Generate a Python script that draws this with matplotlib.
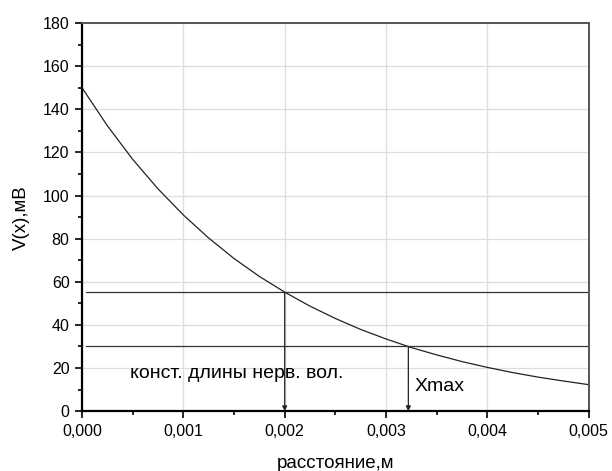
import matplotlib
matplotlib.use("Agg")
import matplotlib.pyplot as plt
from matplotlib.ticker import MultipleLocator

plt.rcParams["font.family"] = ["Liberation Sans", "DejaVu Sans"]

# curve values
x = [0.0, 0.00025, 0.0005, 0.00075, 0.001, 0.00125, 0.0015, 0.00175, 0.002,
     0.00225, 0.0025, 0.00275, 0.003, 0.00325, 0.0035, 0.00375, 0.004,
     0.00425, 0.0045, 0.00475, 0.005]
v = [150, 132.4, 116.8, 103.1, 91.0, 80.3, 70.8, 62.5, 55.2, 48.7, 43.0,
     37.9, 33.5, 29.5, 26.1, 23.0, 20.3, 17.9, 15.8, 14.0, 12.3]

levels = [55.2, 30.0]
marks_x = [0.002, 0.00322]
marks_text = ["конст. длины нерв. вол.", "Xmax"]
xticks = [0, 0.001, 0.002, 0.003, 0.004, 0.005]
xtick_labels = ["0,000", "0,001", "0,002", "0,003", "0,004", "0,005"]

fig = plt.figure(figsize=(6.12, 4.71), dpi=100)
ax = fig.add_axes([0.134, 0.127, 0.828, 0.824])

ax.plot(x, v, color="#222222", lw=0.9)
for lv in levels:
    ax.axhline(lv, xmin=0.008, xmax=1, color="#333333", lw=0.9)

for mx, lv in zip(marks_x, levels):
    ax.annotate("", xy=(mx, 0), xytext=(mx, lv),
                arrowprops=dict(arrowstyle="-|>", color="#222222", lw=0.9,
                                mutation_scale=7, shrinkA=0, shrinkB=0))

ax.text(0.00047, 17.5, marks_text[0], fontsize=14, va="center")
ax.text(0.00328, 11.5, marks_text[1], fontsize=14, va="center")

ax.set_xlim(0, 0.005)
ax.set_ylim(0, 180)
ax.set_xticks(xticks)
ax.set_xticklabels(xtick_labels)
ax.xaxis.set_minor_locator(MultipleLocator(0.0005))
ax.yaxis.set_major_locator(MultipleLocator(20))
ax.yaxis.set_minor_locator(MultipleLocator(10))
ax.grid(True, which="major", color="#dddddd", lw=0.9)
ax.set_axisbelow(True)

ax.tick_params(which="major", direction="out", length=5, width=1.2,
               labelsize=11.5, pad=4)
ax.tick_params(which="minor", direction="out", length=3, width=1.2)
for side in ["left", "bottom"]:
    ax.spines[side].set_linewidth(1.6)
    ax.spines[side].set_color("black")
for side in ["top", "right"]:
    ax.spines[side].set_linewidth(1.4)
    ax.spines[side].set_color("#555555")

ax.set_xlabel("расстояние,м", fontsize=13.5, labelpad=12)
ax.set_ylabel("V(x),мВ", fontsize=13.5, labelpad=9)

fig.savefig("out.png", dpi=100)
